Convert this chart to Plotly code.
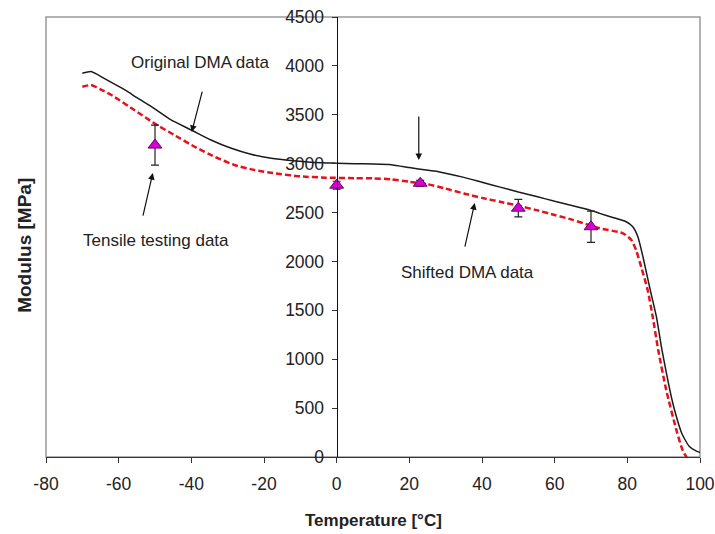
import plotly.graph_objects as go

# Original DMA data (black solid)
orig_T = [-70, -67.6, -64, -60, -57.5, -55, -51, -45.6, -40, -34.6, -29, -23.6, -18, -12, -6, 0, 5, 10, 15,
          20, 22.5, 28, 35, 40, 45, 50, 55, 60, 65, 70, 72.4, 76, 79.7, 81.5, 82.9, 84.3, 86.1, 88, 89.5, 91.5,
          93, 95, 97, 99, 100.7]
orig_M = [3924, 3942, 3873, 3790, 3736, 3675, 3583, 3447, 3344, 3242, 3157, 3096, 3055, 3030, 3012, 3005, 3000, 2997, 2990,
          2960, 2945, 2918, 2860, 2810, 2760, 2710, 2665, 2615, 2570, 2522, 2492, 2450, 2406, 2355, 2253, 2048, 1742, 1435, 1100, 720,
          480, 240, 110, 60, 38]

# Shifted DMA data (red dashed)
shift_T = [-70, -67.6, -65, -62, -55.7, -50.2, -44.7, -39.1, -33.6, -28.1, -22.6, -17, -10, -3, 5, 10, 15,
           20, 25, 30, 35, 40, 45, 50, 55, 60, 65, 70, 72.4, 78.8, 81.1, 82.4, 83.8, 85.6, 87, 88.5, 90.7,
           93.5, 95.2, 97.7]
shift_M = [3787, 3804, 3760, 3702, 3549, 3412, 3293, 3173, 3071, 2986, 2935, 2901, 2870, 2857, 2852, 2850, 2840,
           2815, 2790, 2745, 2695, 2650, 2610, 2570, 2525, 2475, 2425, 2365, 2339, 2288, 2219, 2117, 1946, 1708, 1430, 1094, 685,
           276, 72, -90]

# Tensile testing data
tens_T = [-50, 0, 23, 50, 70]
tens_M = [3190, 2780, 2800, 2545, 2355]
tens_err = [205, 40, 30, 90, 160]

x_ticks = [-80, -60, -40, -20, 0, 20, 40, 60, 80, 100]
x_tick_text = ["-80", "-60", "-40", "-20", "0", "20", "40", "60", "80", "100"]
y_ticks = [0, 500, 1000, 1500, 2000, 2500, 3000, 3500, 4000, 4500]

FONT = "Liberation Sans, Arial, sans-serif"

fig = go.Figure()
fig.add_trace(go.Scatter(x=orig_T, y=orig_M, mode="lines", line=dict(color="#1a1a1a", width=1.5, shape="spline", smoothing=0.5),
                         showlegend=False, hoverinfo="skip"))
fig.add_trace(go.Scatter(x=shift_T, y=shift_M, mode="lines", line=dict(color="#e3121c", width=2.5, dash="6px,3px", shape="spline", smoothing=0.5),
                         showlegend=False, hoverinfo="skip"))
fig.add_trace(go.Scatter(x=tens_T, y=tens_M, mode="markers",
                         marker=dict(symbol="triangle-up", size=12, color="#d400d4", line=dict(color="#6a006a", width=1)),
                         error_y=dict(type="data", array=tens_err, color="#222", thickness=1.2, width=4),
                         showlegend=False))

# arrows (head at x,y ; tail at ax,ay) in data coordinates
arrows = [
    (-39.9, 3324, -36.9, 3753),
    (-50.6, 2904, -53.4, 2454),
    (22.6, 3037, 22.6, 3498),
    (38.0, 2598, 35.2, 2137),
]
for hx, hy, tx, ty in arrows:
    fig.add_annotation(x=hx, y=hy, ax=tx, ay=ty, axref="x", ayref="y", xref="x", yref="y", text="",
                       showarrow=True, arrowhead=2, arrowsize=1.1, arrowwidth=1.2, arrowcolor="#111")

labels = [
    ("Original DMA data", -37.7, 4030),
    ("Tensile testing data", -49.8, 2219),
    ("Shifted DMA data", 36.0, 1892),
]
for t, x, y in labels:
    fig.add_annotation(x=x, y=y, xref="x", yref="y", text=t, showarrow=False,
                       font=dict(family=FONT, size=17, color="#222"))

# gray frame around the plot area
fig.add_shape(type="rect", xref="paper", yref="paper", x0=0, y0=0, x1=1, y1=1,
              line=dict(color="#999", width=1.5), layer="below")

fig.update_layout(
    width=715, height=534,
    margin=dict(l=46, r=15, t=17, b=77),
    paper_bgcolor="white", plot_bgcolor="white",
    font=dict(family=FONT, color="#222"),
    xaxis=dict(range=[-80, 100], tickvals=x_ticks, ticktext=x_tick_text, showgrid=False, zeroline=False, automargin=False,
               showline=True, linecolor="#333", linewidth=1.2, ticks="outside", ticklen=5, tickcolor="#333",
               tickfont=dict(size=17.5, family=FONT), ticklabelstandoff=6),
    yaxis=dict(range=[0, 4500], tickvals=y_ticks, showgrid=False, zeroline=False, automargin=False,
               anchor="free", position=80/180,
               showline=True, linecolor="#111", linewidth=1.2, ticks="outside", ticklen=5, tickcolor="#333",
               tickfont=dict(size=17.5, family=FONT), ticklabelstandoff=4),
)
fig.add_annotation(x=-0.032, y=0.48, xref="paper", yref="paper", xanchor="center", yanchor="middle",
                   text="<b>Modulus [MPa]</b>", textangle=-90,
                   showarrow=False, font=dict(size=19, family=FONT, color="#222"))
fig.add_annotation(x=0.5, y=-0.145, xref="paper", yref="paper", xanchor="center", yanchor="middle",
                   text="<b>Temperature [°C]</b>",
                   showarrow=False, font=dict(size=17, family=FONT, color="#222"))

fig.write_html("out.html")
